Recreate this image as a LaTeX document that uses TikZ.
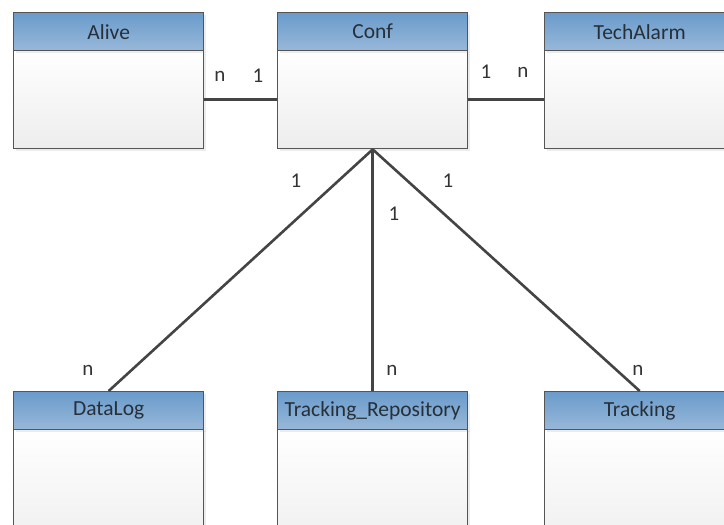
\documentclass[tikz,border=0pt]{standalone}
\usepackage{fontspec}
\setmainfont{Carlito}
\usetikzlibrary{shadows}

\definecolor{boxline}{HTML}{555555}
\definecolor{hdtop}{HTML}{6A9BCB}
\definecolor{hdbot}{HTML}{98B8D9}
\definecolor{bodybot}{HTML}{EDEDED}
\definecolor{hdtext}{HTML}{26303A}
\definecolor{linkcol}{HTML}{444444}
\definecolor{multcol}{HTML}{333333}

\tikzset{
  classhead/.style={draw=boxline, line width=1.4pt, top color=hdtop, bottom color=hdbot,
    minimum width=190pt, minimum height=38pt, inner sep=0pt, anchor=north west,
    text=hdtext, font=\fontsize{21.5}{25}\selectfont,
    drop shadow={shadow xshift=2pt, shadow yshift=-2pt, opacity=0.15}},
  classbody/.style={draw=boxline, line width=1.4pt, top color=white, bottom color=bodybot,
    minimum width=190pt, inner sep=0pt, anchor=north west,
    drop shadow={shadow xshift=2pt, shadow yshift=-2pt, opacity=0.15}},
  link/.style={draw=linkcol, line width=2.6pt},
  mult/.style={text=multcol, font=\fontsize{21}{25}\selectfont, inner sep=0pt}
}

\begin{document}
\begin{tikzpicture}[x=1pt, y=-1pt]
  \useasboundingbox (0,0) rectangle (724,525);
  \fill[white] (0,0) rectangle (724,525);
  \clip (0,0) rectangle (724,525);

  % top row: bodies first, headers on top
  \node[classbody, minimum height=98pt] (aliveB) at (13,50) {};
  \node[classhead] (alive) at (13,12) {Alive};
  \node[classbody, minimum height=98pt] (confB) at (277,50) {};
  \node[classhead] (conf) at (277,12) {Conf};
  \node[classbody, minimum height=98pt] (techB) at (544,50) {};
  \node[classhead] (tech) at (544,12) {TechAlarm};

  % bottom row (bodies run past the lower edge)
  \node[classbody, minimum height=130pt] (dataB) at (13,428) {};
  \node[classhead] (datalog) at (13,391) {DataLog};
  \node[classbody, minimum height=130pt] (repoB) at (277,428) {};
  \node[classhead] (repo) at (277,391) {Tracking\_Repository};
  \node[classbody, minimum height=130pt] (trackB) at (544,428) {};
  \node[classhead] (track) at (544,391) {Tracking};

  % associations
  \draw[link] (aliveB.east) -- (confB.west);
  \draw[link] (confB.east) -- (techB.west);
  \draw[link] (confB.south) -- (datalog.north);
  \draw[link] (confB.south) -- (repo.north);
  \draw[link] (confB.south) -- (track.north);

  % multiplicities
  \node[mult] (m1) at (220,76) {n};
  \node[mult] (m2) at (258,76) {1};
  \node[mult] (m3) at (486,72) {1};
  \node[mult] (m4) at (523,72) {n};
  \node[mult] (m5) at (296,181) {1};
  \node[mult] (m6) at (394,214) {1};
  \node[mult] (m7) at (448,181) {1};
  \node[mult] (m8) at (88,370) {n};
  \node[mult] (m9) at (392,370) {n};
  \node[mult] (m10) at (638,370) {n};
\end{tikzpicture}
\end{document}
